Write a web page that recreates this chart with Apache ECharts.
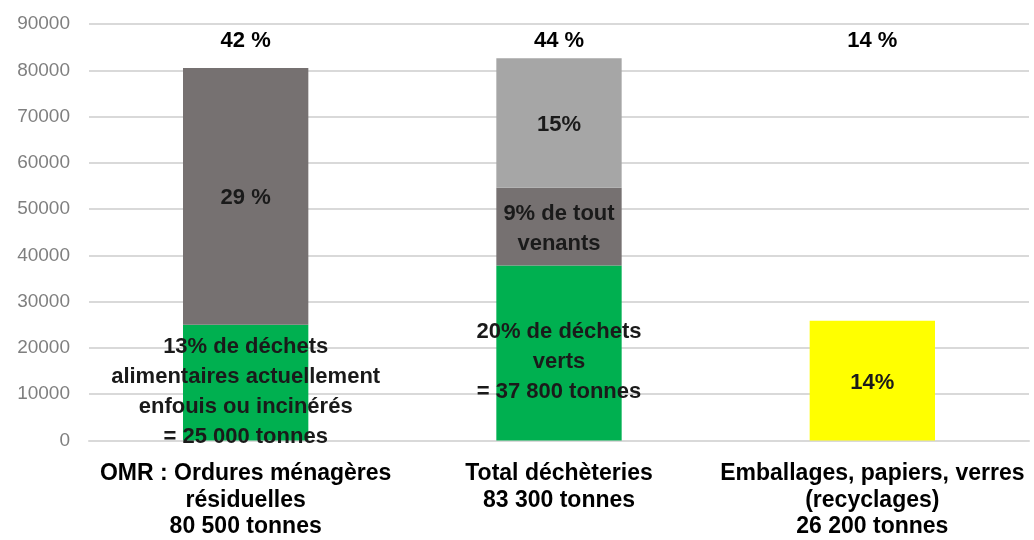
<!DOCTYPE html>
<html>
<head>
<meta charset="utf-8">
<script src="https://cdn.jsdelivr.net/npm/echarts@6/dist/echarts.min.js"></script>
<style>
  html, body { margin: 0; padding: 0; background: #fff; }
  #chart { width: 1034px; height: 540px; }
</style>
</head>
<body>
<div id="chart"></div>
<script>
// categories (bottom axis) and the share shown above each column
const categories = [
  "OMR : Ordures ménagères\nrésiduelles\n80 500 tonnes",
  "Total déchèteries\n83 300 tonnes",
  "Emballages, papiers, verres\n(recyclages)\n26 200 tonnes"
];
const topShares = ["42 %", "44 %", "14 %"];

// stacked segments, in tonnes ('-' = no segment)
const greenValues = [25000, 37800, "-"];
const darkGreyValues = [55500, 16800, "-"];
const lightGreyValues = ["-", 28000, "-"];
const yellowValues = ["-", "-", 25900];

const greenLabels = [
  "13% de déchets\nalimentaires actuellement\nenfouis ou incinérés\n= 25 000 tonnes",
  "20% de déchets\nverts\n= 37 800 tonnes",
  ""
];
const darkGreyLabels = ["29 %", "9% de tout\nvenants", ""];
const lightGreyLabels = ["", "15%", ""];
const yellowLabels = ["", "", "14%"];

const yTicks = { min: 0, max: 90000, interval: 10000 };

const FONT = "'Liberation Sans', Arial, sans-serif";

function segLabel(texts, offsetY) {
  return {
    show: true,
    position: "inside",
    offset: [0, offsetY],
    color: "#1a1a1a",
    fontFamily: FONT,
    fontWeight: "bold",
    fontSize: 22,
    lineHeight: 30,
    formatter: p => texts[p.dataIndex] || ""
  };
}

function segment(name, values, color, texts, offsetY) {
  return {
    name: name,
    type: "bar",
    stack: "total",
    barWidth: "40%",
    xAxisIndex: 0,
    itemStyle: { color: color },
    label: segLabel(texts, offsetY),
    data: values
  };
}

const chart = echarts.init(document.getElementById("chart"), null, { renderer: "canvas" });
chart.setOption({
  animation: false,
  grid: { left: 89, right: 5, top: 24, bottom: 97 },
  xAxis: [
    {
      type: "category",
      data: categories,
      axisLine: { lineStyle: { color: "#d9d9d9", width: 2 } },
      axisTick: { show: false },
      axisLabel: {
        interval: 0,
        margin: 20,
        color: "#000",
        fontFamily: FONT,
        fontWeight: "bold",
        fontSize: 23,
        lineHeight: 26.5
      }
    },
    {
      type: "category",
      position: "top",
      data: topShares,
      axisLine: { show: false },
      axisTick: { show: false },
      splitLine: { show: false },
      axisLabel: {
        inside: true,
        interval: 0,
        margin: 6,
        color: "#000",
        fontFamily: FONT,
        fontWeight: "bold",
        fontSize: 22
      }
    }
  ],
  yAxis: {
    type: "value",
    min: yTicks.min,
    max: yTicks.max,
    interval: yTicks.interval,
    axisLine: { show: false },
    axisTick: { show: false },
    splitLine: { lineStyle: { color: "#d9d9d9", width: 2 } },
    axisLabel: {
      margin: 19,
      color: "#7f7f7f",
      fontFamily: FONT,
      fontSize: 19,
      formatter: v => String(v)
    }
  },
  series: [
    segment("vert", greenValues, "#00b050", greenLabels, 9),
    segment("gris foncé", darkGreyValues, "#767171", darkGreyLabels, 2),
    segment("gris clair", lightGreyValues, "#a6a6a6", lightGreyLabels, 2),
    segment("jaune", yellowValues, "#ffff00", yellowLabels, 2)
  ]
});
</script>
</body>
</html>
